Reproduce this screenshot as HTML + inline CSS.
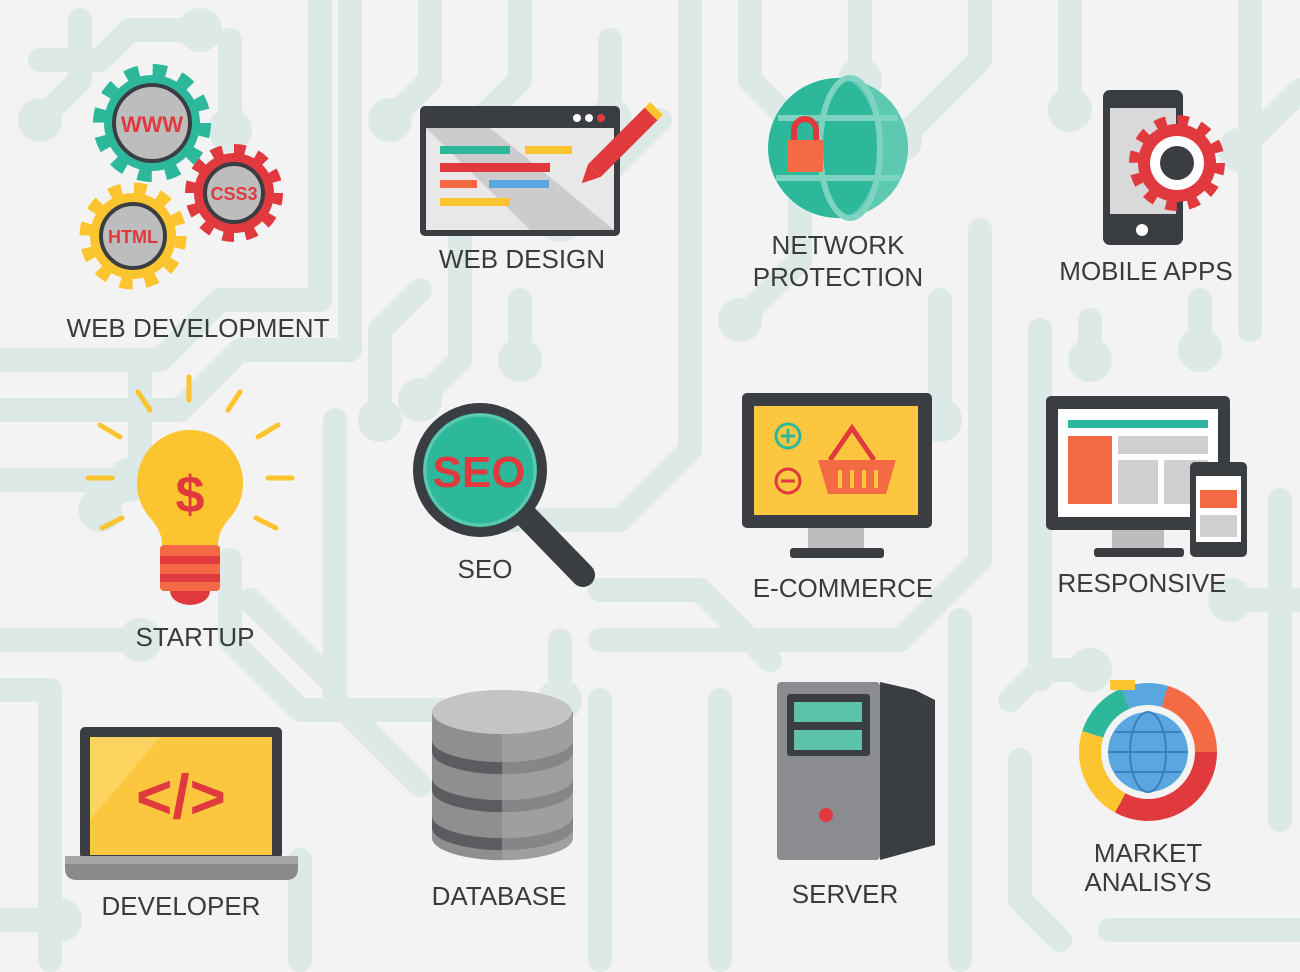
<!DOCTYPE html>
<html><head><meta charset="utf-8"><style>
html,body{margin:0;padding:0;background:#f3f3f3}
svg{display:block}
.l{font-family:"Liberation Sans",sans-serif;font-size:26px;fill:#3a3b3d;text-anchor:middle}
</style></head><body>
<svg width="1300" height="972" viewBox="0 0 1300 972" xmlns="http://www.w3.org/2000/svg">
<rect width="1300" height="972" fill="#f3f3f3"/>
<!-- circuit -->
<g stroke="#dde9e6" stroke-width="24" fill="none" stroke-linecap="round" stroke-linejoin="round">
<path d="M0 360 H160 L220 300 H320 V0"/>
<path d="M0 410 H180 L240 350 H350 V0"/>
<path d="M0 480 H130"/>
<path d="M335 420 V700 L420 785"/>
<path d="M80 20 V80 L40 120"/>
<path d="M40 60 H100 L130 30 H200"/>
<path d="M230 40 V130"/>
<path d="M430 0 V80 L390 120"/>
<path d="M520 0 V80 L460 140 V360 L420 400"/>
<path d="M690 0 V450 L620 520 H470"/>
<path d="M610 40 V120"/>
<path d="M660 120 L560 220"/>
<path d="M420 290 L380 330 V420"/>
<path d="M520 300 V360"/>
<path d="M750 0 V80 L800 130 V260 L740 320"/>
<path d="M860 0 V80"/>
<path d="M980 0 V60 L900 140"/>
<path d="M1070 0 V110"/>
<path d="M1250 0 V330"/>
<path d="M1300 90 L1240 150"/>
<path d="M940 300 V420"/>
<path d="M980 230 V560 L900 640 H600"/>
<path d="M1040 330 V680"/>
<path d="M1090 320 V360"/>
<path d="M1200 300 V350"/>
<path d="M0 640 H140"/>
<path d="M0 690 H50 V960"/>
<path d="M230 560 V640 L300 710 H440"/>
<path d="M250 600 L330 680"/>
<path d="M600 590 H700 L770 660"/>
<path d="M560 640 V700"/>
<path d="M600 700 V960"/>
<path d="M720 700 V960"/>
<path d="M960 620 V960"/>
<path d="M1010 700 L1040 670 H1090"/>
<path d="M1280 500 V820"/>
<path d="M1230 600 H1300"/>
<path d="M1020 760 V900 L1060 940"/>
<path d="M300 860 V960"/>
<path d="M0 920 H60"/>
<path d="M1110 930 H1300"/>
<path d="M140 360 V470 L100 510"/>
</g>
<g fill="#dde9e6">
<circle cx="40" cy="120" r="22"/><circle cx="230" cy="130" r="22"/><circle cx="390" cy="120" r="22"/>
<circle cx="610" cy="120" r="22"/><circle cx="560" cy="220" r="22"/><circle cx="380" cy="420" r="22"/>
<circle cx="520" cy="360" r="22"/><circle cx="740" cy="320" r="22"/><circle cx="860" cy="80" r="22"/>
<circle cx="900" cy="140" r="22"/><circle cx="1070" cy="110" r="22"/><circle cx="940" cy="420" r="22"/>
<circle cx="1090" cy="360" r="22"/><circle cx="1200" cy="350" r="22"/><circle cx="140" cy="640" r="22"/>
<circle cx="560" cy="700" r="22"/><circle cx="1240" cy="150" r="22"/><circle cx="130" cy="480" r="22"/>
<circle cx="100" cy="510" r="22"/><circle cx="1090" cy="670" r="22"/><circle cx="60" cy="920" r="22"/>
<circle cx="420" cy="400" r="22"/><circle cx="1230" cy="600" r="22"/><circle cx="200" cy="30" r="22"/>
</g>

<!-- WEB DEVELOPMENT gears -->
<g>
<circle cx="152" cy="123" r="53" fill="none" stroke="#2db89c" stroke-width="12" stroke-dasharray="13.9 13.9"/>
<circle cx="152" cy="123" r="48" fill="#2db89c"/>
<circle cx="152" cy="123" r="38" fill="#bdbdbd" stroke="#3a3d42" stroke-width="4"/>
<text x="152" y="132" font-family="Liberation Sans,sans-serif" font-weight="bold" font-size="22" fill="#e0393e" text-anchor="middle">WWW</text>
<circle cx="234" cy="193" r="44" fill="none" stroke="#e0393e" stroke-width="10" stroke-dasharray="11.5 11.5"/>
<circle cx="234" cy="193" r="40" fill="#e0393e"/>
<circle cx="234" cy="193" r="29" fill="#bdbdbd" stroke="#3a3d42" stroke-width="4"/>
<text x="234" y="200" font-family="Liberation Sans,sans-serif" font-weight="bold" font-size="18" fill="#e0393e" text-anchor="middle">CSS3</text>
<circle cx="133" cy="236" r="48" fill="none" stroke="#fcc42e" stroke-width="11" stroke-dasharray="12.6 12.6"/>
<circle cx="133" cy="236" r="43" fill="#fcc42e"/>
<circle cx="133" cy="236" r="32" fill="#bdbdbd" stroke="#3a3d42" stroke-width="4"/>
<text x="133" y="243" font-family="Liberation Sans,sans-serif" font-weight="bold" font-size="18" fill="#e0393e" text-anchor="middle">HTML</text>
</g>
<text class="l" x="198" y="337">WEB DEVELOPMENT</text>

<!-- WEB DESIGN -->
<rect x="420" y="106" width="200" height="130" rx="5" fill="#3a3d42"/>
<rect x="426" y="128" width="188" height="102" fill="#e8e8e8"/>
<polygon points="426,128 490,128 614,230 530,230" fill="#c4c4c4" opacity="0.8"/>
<circle cx="577" cy="118" r="4" fill="#fff"/><circle cx="589" cy="118" r="4" fill="#fff"/><circle cx="601" cy="118" r="4" fill="#e0393e"/>
<rect x="440" y="146" width="70" height="8" fill="#2db89c"/><rect x="525" y="146" width="47" height="8" fill="#fcc42e"/>
<rect x="440" y="163" width="110" height="9" fill="#e0393e"/>
<rect x="440" y="180" width="37" height="8" fill="#f46a45"/><rect x="489" y="180" width="60" height="8" fill="#5aa7e0"/>
<rect x="440" y="198" width="70" height="8" fill="#fcc42e"/>
<g transform="translate(610,155) rotate(45)">
<rect x="-9" y="-60" width="18" height="82" fill="#e0393e"/>
<rect x="-9" y="-66" width="18" height="8" fill="#fcc42e"/>
<polygon points="-9,22 9,22 0,40" fill="#e0393e"/>
</g>
<text class="l" x="522" y="268">WEB DESIGN</text>

<!-- NETWORK PROTECTION -->
<circle cx="838" cy="148" r="70" fill="#2db89c"/>
<path d="M838 78 A70 70 0 0 1 838 218 A40 70 0 0 0 838 78Z" fill="#7dd4c0" opacity="0.6"/>
<ellipse cx="850" cy="148" rx="30" ry="70" fill="none" stroke="#7dd4c0" stroke-width="6"/>
<path d="M778 118 H898 M776 178 H900" stroke="#7dd4c0" stroke-width="6"/>
<rect x="787" y="140" width="36" height="32" fill="#f46a45"/>
<path d="M794 140 V130 A11 11 0 0 1 816 130 V140" fill="none" stroke="#e0393e" stroke-width="6"/>
<text class="l" x="838" y="254">NETWORK</text>
<text class="l" x="838" y="286">PROTECTION</text>

<!-- MOBILE APPS -->
<rect x="1103" y="90" width="80" height="155" rx="7" fill="#3a3d42"/>
<rect x="1110" y="108" width="66" height="106" fill="#d9d9d9"/>
<circle cx="1142" cy="230" r="6" fill="#fff"/>
<circle cx="1177" cy="163" r="43" fill="none" stroke="#e0393e" stroke-width="10" stroke-dasharray="11.26 11.26"/>
<circle cx="1177" cy="163" r="39" fill="#e0393e"/>
<circle cx="1177" cy="163" r="27" fill="#fff"/>
<circle cx="1177" cy="163" r="17" fill="#3a3d42"/>
<text class="l" x="1146" y="280">MOBILE APPS</text>

<!-- STARTUP -->
<g stroke="#fcc42e" stroke-width="5" stroke-linecap="round">
<line x1="189" y1="377" x2="189" y2="400"/><line x1="138" y1="392" x2="150" y2="410"/><line x1="240" y1="392" x2="228" y2="410"/>
<line x1="100" y1="425" x2="120" y2="437"/><line x1="278" y1="425" x2="258" y2="437"/>
<line x1="88" y1="478" x2="112" y2="478"/><line x1="268" y1="478" x2="292" y2="478"/>
<line x1="102" y1="528" x2="122" y2="518"/><line x1="276" y1="528" x2="256" y2="518"/>
</g>
<path d="M190 430 A53 53 0 0 1 228 520 Q218 532 218 545 H162 Q162 532 152 520 A53 53 0 0 1 190 430Z" fill="#fcc42e"/>
<rect x="160" y="545" width="60" height="46" rx="4" fill="#f46a45"/>
<rect x="160" y="556" width="60" height="8" fill="#e0393e"/><rect x="160" y="574" width="60" height="8" fill="#e0393e"/>
<path d="M170 591 H210 A20 14 0 0 1 170 591Z" fill="#e0393e"/>
<text x="190" y="512" font-family="Liberation Sans,sans-serif" font-weight="bold" font-size="52" fill="#e0393e" text-anchor="middle">$</text>
<text class="l" x="195" y="646">STARTUP</text>

<!-- SEO -->
<line x1="520" y1="510" x2="583" y2="575" stroke="#3a3d42" stroke-width="24" stroke-linecap="round"/>
<circle cx="480" cy="470" r="62" fill="#2db89c" stroke="#3a3d42" stroke-width="10"/>
<circle cx="480" cy="470" r="55" fill="none" stroke="#7dd4c0" stroke-width="3" opacity="0.6"/>
<text x="479" y="487" font-family="Liberation Sans,sans-serif" font-weight="bold" font-size="44" fill="#e0393e" text-anchor="middle">SEO</text>
<text class="l" x="485" y="578">SEO</text>

<!-- E-COMMERCE -->
<rect x="742" y="393" width="190" height="135" rx="5" fill="#3a3d42"/>
<rect x="754" y="406" width="164" height="109" fill="#fcc73e"/>
<rect x="808" y="528" width="56" height="20" fill="#bdbdbd"/>
<rect x="790" y="548" width="94" height="10" rx="3" fill="#3a3d42"/>
<circle cx="788" cy="436" r="12" fill="none" stroke="#2db89c" stroke-width="3"/>
<path d="M781 436 H795 M788 429 V443" stroke="#2db89c" stroke-width="3"/>
<circle cx="788" cy="481" r="12" fill="none" stroke="#e0393e" stroke-width="3"/>
<path d="M781 481 H795" stroke="#e0393e" stroke-width="3"/>
<path d="M830 460 L852 428 L874 460" fill="none" stroke="#e0393e" stroke-width="5"/>
<path d="M818 460 H896 L886 494 H828Z" fill="#f46a45"/>
<g stroke="#fcc73e" stroke-width="4"><line x1="840" y1="470" x2="840" y2="488"/><line x1="852" y1="470" x2="852" y2="488"/><line x1="864" y1="470" x2="864" y2="488"/><line x1="876" y1="470" x2="876" y2="488"/></g>
<text class="l" x="843" y="597">E-COMMERCE</text>

<!-- RESPONSIVE -->
<rect x="1046" y="396" width="184" height="134" rx="5" fill="#3a3d42"/>
<rect x="1058" y="409" width="160" height="108" fill="#ffffff"/>
<rect x="1068" y="420" width="140" height="8" fill="#2db89c"/>
<rect x="1068" y="436" width="44" height="68" fill="#f46a45"/>
<rect x="1118" y="436" width="90" height="18" fill="#cfcfcf"/>
<rect x="1118" y="460" width="40" height="44" fill="#cfcfcf"/><rect x="1164" y="460" width="44" height="44" fill="#cfcfcf"/>
<rect x="1112" y="530" width="52" height="18" fill="#bdbdbd"/>
<rect x="1094" y="548" width="90" height="9" rx="3" fill="#3a3d42"/>
<rect x="1190" y="462" width="57" height="95" rx="5" fill="#3a3d42"/>
<rect x="1196" y="476" width="45" height="66" fill="#fff"/>
<rect x="1200" y="490" width="37" height="18" fill="#f46a45"/>
<rect x="1200" y="515" width="37" height="22" fill="#cfcfcf"/>
<text class="l" x="1142" y="592">RESPONSIVE</text>

<!-- DEVELOPER -->
<rect x="80" y="727" width="202" height="132" rx="5" fill="#3a3d42"/>
<rect x="90" y="737" width="182" height="118" fill="#fcc73e"/>
<polygon points="90,737 160,737 90,820" fill="#fdd460"/>
<path d="M65 856 H298 V868 Q298 880 286 880 H77 Q65 880 65 868Z" fill="#8a8a8a"/>
<rect x="65" y="856" width="233" height="8" fill="#a5a5a5"/>
<text x="181" y="818" font-family="Liberation Sans,sans-serif" font-weight="bold" font-size="62" fill="#e0393e" text-anchor="middle">&lt;/&gt;</text>
<text class="l" x="181" y="915">DEVELOPER</text>

<!-- DATABASE -->
<g>
<path d="M432 712 V838 A70 22 0 0 0 573 838 V712Z" fill="#8f8f8f"/>
<ellipse cx="502" cy="712" rx="70" ry="22" fill="#c4c4c4"/>
<path d="M432 740 A70 22 0 0 0 573 740 V752 A70 22 0 0 1 432 752Z" fill="#5a5c60"/>
<path d="M432 778 A70 22 0 0 0 573 778 V790 A70 22 0 0 1 432 790Z" fill="#5a5c60"/>
<path d="M432 816 A70 22 0 0 0 573 816 V828 A70 22 0 0 1 432 828Z" fill="#5a5c60"/>
<path d="M502 734 V860 A70 22 0 0 0 573 838 V712 A70 22 0 0 1 502 734Z" fill="#b0b0b0" opacity="0.5"/>
</g>
<text class="l" x="499" y="905">DATABASE</text>

<!-- SERVER -->
<polygon points="880,682 915,690 935,700 935,845 880,860" fill="#3a3d42"/>
<rect x="777" y="682" width="103" height="178" rx="4" fill="#8a8c90"/>
<rect x="787" y="694" width="83" height="62" rx="3" fill="#3a3d42"/>
<rect x="794" y="702" width="68" height="20" fill="#5cc2a8"/>
<rect x="794" y="730" width="68" height="20" fill="#5cc2a8"/>
<circle cx="826" cy="815" r="7" fill="#e0393e"/>
<text class="l" x="845" y="903">SERVER</text>

<!-- MARKET ANALISYS -->
<g fill="none" stroke-width="22">
<circle cx="1148" cy="752" r="58" stroke="#e0393e" stroke-dasharray="120 400"/>
<circle cx="1148" cy="752" r="58" stroke="#fcc42e" stroke-dasharray="0 120 80 400"/>
<circle cx="1148" cy="752" r="58" stroke="#2db89c" stroke-dasharray="0 200 50 400"/>
<circle cx="1148" cy="752" r="58" stroke="#5aa7e0" stroke-dasharray="0 250 40 400"/>
<circle cx="1148" cy="752" r="58" stroke="#f46a45" stroke-dasharray="0 290 75 400"/>
</g>
<path d="M1110 680 H1135 V690 H1110Z" fill="#fcc42e"/>
<circle cx="1148" cy="752" r="40" fill="#5aa7e0"/>
<g fill="none" stroke="#3a7fc0" stroke-width="2"><ellipse cx="1148" cy="752" rx="18" ry="40"/><line x1="1108" y1="752" x2="1188" y2="752"/><path d="M1115 732 H1181 M1115 772 H1181"/></g>
<text class="l" x="1148" y="862">MARKET</text>
<text class="l" x="1148" y="891">ANALISYS</text>
</svg>
</body></html>
